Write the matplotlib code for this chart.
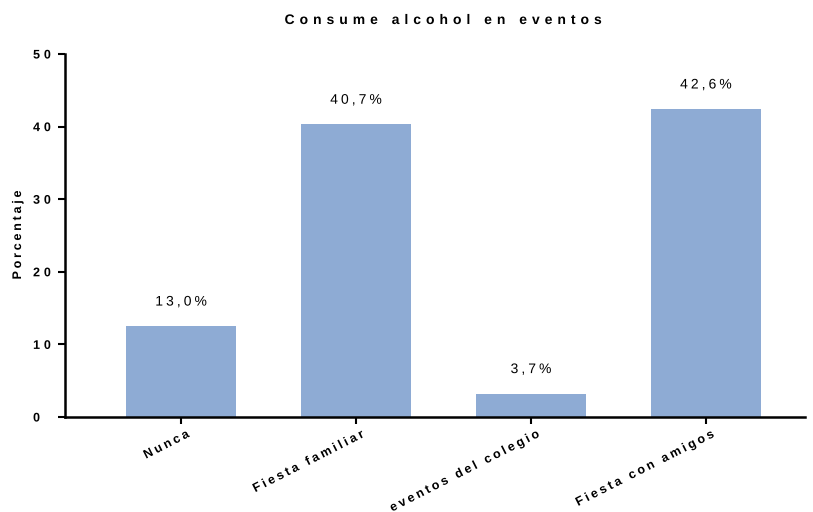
import numpy as np
import matplotlib.pyplot as plt
from matplotlib.patheffects import AbstractPathEffect
from matplotlib.path import Path
from matplotlib.textpath import text_to_path
from matplotlib.font_manager import FontProperties, findfont, get_font

plt.rcParams['font.family'] = ['Liberation Sans', 'DejaVu Sans']

categorias = ['Nunca', 'Fiesta familiar', 'eventos del colegio', 'Fiesta con amigos']
porcentaje = [12.5, 40.3, 3.2, 42.4]
etiquetas = ['13,0%', '40,7%', '3,7%', '42,6%']
yticks = [0, 10, 20, 30, 40, 50]


class Espaciado(AbstractPathEffect):
    """separa las letras del texto (tracking estilo Prism)"""

    def __init__(self, texto, size, weight='normal', track=3.0, ancla='center', extra=0):
        super().__init__()
        fp = FontProperties(family='Liberation Sans', size=size, weight=weight)
        fuente = get_font(findfont(fp))
        fuente.set_size(text_to_path.FONT_SCALE, text_to_path.DPI)
        info, _, _ = text_to_path.get_glyphs_with_font(fuente, texto)
        self.xpos = np.array([g[1] for g in info])
        self.track = track * text_to_path.FONT_SCALE / size
        n = len(self.xpos)
        self.ref = {'left': 0, 'center': (n - 1) / 2, 'right': n - 1}[ancla] - extra

    def draw_path(self, renderer, gc, tpath, affine, rgbFace=None):
        verts = tpath.vertices.copy()
        codes = tpath.codes
        if codes is None or len(self.xpos) == 0:
            renderer.draw_path(gc, tpath, affine, rgbFace)
            return
        inicios = list(np.where(codes == Path.MOVETO)[0]) + [len(codes)]
        for a, b in zip(inicios[:-1], inicios[1:]):
            ok = codes[a:b] != Path.CLOSEPOLY
            xs = verts[a:b, 0][ok]
            medio = (xs.min() + xs.max()) / 2
            idx = max(np.searchsorted(self.xpos, medio, side='right') - 1, 0)
            verts[a:b, 0] += self.track * (idx - self.ref)
        renderer.draw_path(gc, Path(verts, codes), affine, rgbFace)


fig = plt.figure(figsize=(8.13, 5.12), dpi=100)
ax = fig.add_axes([65 / 813, 1 - 417 / 512, 740 / 813, 363 / 512])

x = np.arange(len(categorias))
ax.bar(x, porcentaje, width=0.63, color='#8eabd4')

for i, v in enumerate(porcentaje):
    t = ax.text(i, v + 3.4, etiquetas[i], ha='center', va='center', fontsize=10)
    t.set_path_effects([Espaciado(etiquetas[i], 10, track=2.2)])

ax.set_xlim(-0.663, 3.566)
ax.set_ylim(0, 50)
ax.set_yticks(yticks)
ax.set_yticklabels([str(v) for v in yticks], fontsize=9, fontweight='bold', ha='left')
for lab, v in zip(ax.get_yticklabels(), yticks):
    lab.set_path_effects([Espaciado(str(v), 9, 'bold', 2.8, 'left')])

ax.set_xticks(x)
ax.set_xticklabels(categorias, rotation=27, ha='right', rotation_mode='anchor',
                   fontsize=9, fontweight='bold')
for lab, c in zip(ax.get_xticklabels(), categorias):
    lab.set_path_effects([Espaciado(c, 9, 'bold', 2.0, 'right', extra=2)])

ax.tick_params(axis='y', width=1.5, length=5, pad=18)
ax.tick_params(axis='x', width=1.5, length=5, pad=5)

ax.spines['top'].set_visible(False)
ax.spines['right'].set_visible(False)
ax.spines['left'].set_linewidth(1.8)
ax.spines['bottom'].set_linewidth(1.8)

titulo = 'Consume alcohol en eventos'
t = fig.text(443 / 813, 1 - 20 / 512, titulo, ha='center', va='center',
             fontsize=10, fontweight='bold')
t.set_path_effects([Espaciado(titulo, 10, 'bold', 3.6)])

yl = fig.text(18 / 813, 1 - 235 / 512, 'Porcentaje', rotation=90, ha='center', va='center',
              fontsize=9, fontweight='bold')
yl.set_path_effects([Espaciado('Porcentaje', 9, 'bold', 2.0)])

plt.savefig('out.png', dpi=100)
